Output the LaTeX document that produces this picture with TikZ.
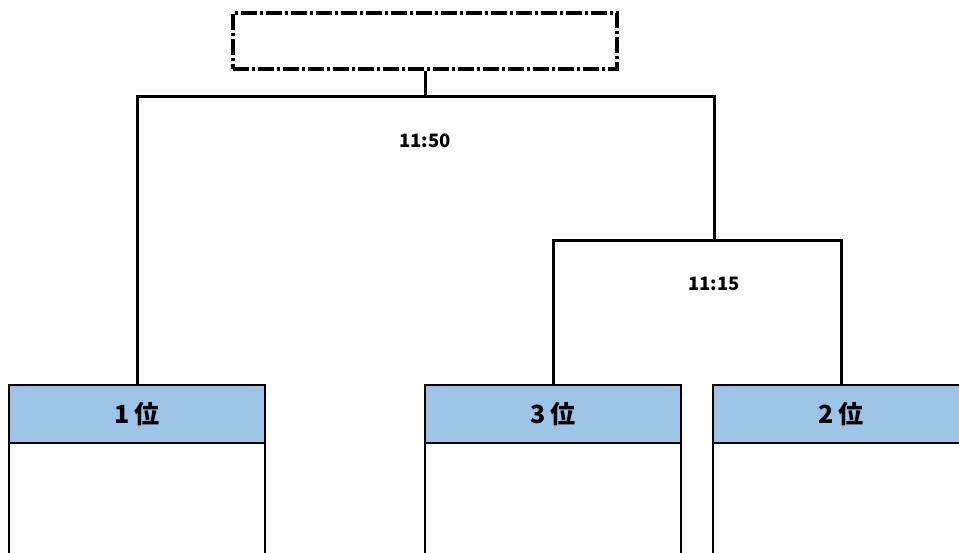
\documentclass[tikz,border=0pt]{standalone}
\usepackage{fontspec}
\newfontfamily\jpfont{Noto Sans CJK JP}
\usetikzlibrary{positioning}
\definecolor{rankblue}{RGB}{157,195,230}

\tikzset{
  finalbox/.style={draw, line width=3.5pt, dash pattern=on 16pt off 3pt on 3pt off 3pt, minimum width=384pt, minimum height=56pt, inner sep=0pt},
  rankhead/.style={draw, line width=2pt, fill=rankblue, minimum width=256pt, minimum height=58pt, inner sep=0pt, outer sep=0pt, font=\jpfont\bfseries\fontsize{25}{25}\selectfont},
  rankbody/.style={draw, line width=2pt, minimum width=256pt, minimum height=200pt, outer sep=0pt},
  bracket/.style={line width=3pt},
  timelabel/.style={font=\jpfont\bfseries\fontsize{18.5}{18.5}\selectfont}
}

\begin{document}
\begin{tikzpicture}[x=1pt, y=-1pt]
		\useasboundingbox (0,0) rectangle (959,553);
		\clip (0,0) rectangle (959,553);

		\node[finalbox] (final) at (425,41) {};

		\node[rankhead] (r1) at (137,414) {1 位};
		\node[rankhead] (r3) at (553,414) {3 位};
		\node[rankhead] (r2) at (841,414) {2 位};

		\node[rankbody, below=0pt of r1] (b1) {};
		\node[rankbody, below=0pt of r3] (b3) {};
		\node[rankbody, below=0pt of r2] (b2) {};

		\coordinate (j1) at (425,97);
		\coordinate (j2) at (714,241);

		\draw[bracket] (final.south) -- (j1);
		\draw[bracket] (r1.north) |- (j1) -| (j2);
		\draw[bracket] (r3.north) |- (j2) -| (r2.north);

		\node[timelabel, below=33pt of j1] (t1) {11:50};
		\node[timelabel, below=33pt of j2] (t2) {11:15};
\end{tikzpicture}
\end{document}
